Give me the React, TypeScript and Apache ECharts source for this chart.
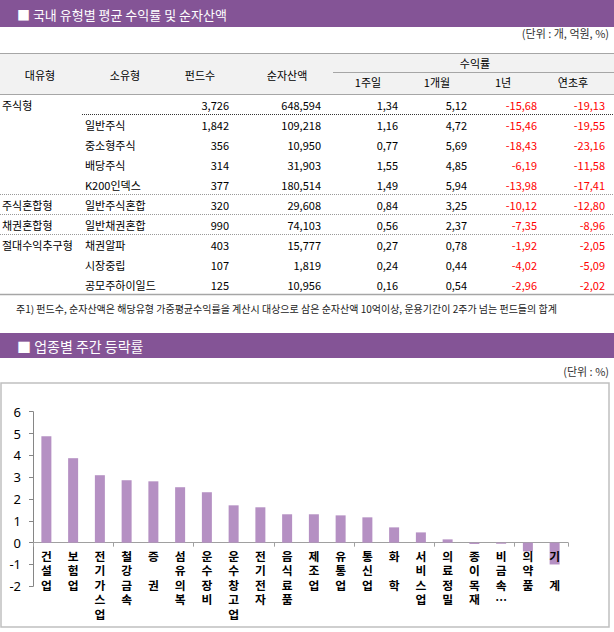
import React, { useEffect, useRef } from "react";
import * as echarts from "echarts";

// ---- Table data ----
const majorTypes = ["주식형", "", "", "", "", "주식혼합형", "채권혼합형", "절대수익추구형", "", ""];
const minorTypes = ["", "일반주식", "중소형주식", "배당주식", "K200인덱스", "일반주식혼합", "일반채권혼합", "채권알파", "시장중립", "공모주하이일드"];
const fundCounts = [3726, 1842, 356, 314, 377, 320, 990, 403, 107, 125];
const netAssets = [648594, 109218, 10950, 31903, 180514, 29608, 74103, 15777, 1819, 10956];
const return1w = [1.34, 1.16, 0.77, 1.55, 1.49, 0.84, 0.56, 0.27, 0.24, 0.16];
const return1m = [5.12, 4.72, 5.69, 4.85, 5.94, 3.25, 2.37, 0.78, 0.44, 0.54];
const return1y = [-15.68, -15.46, -18.43, -6.19, -13.98, -10.12, -7.35, -1.92, -4.02, -2.96];
const returnYtd = [-19.13, -19.55, -23.16, -11.58, -17.41, -12.8, -8.96, -2.05, -5.09, -2.02];

const headerCols = ["대유형", "소유형", "펀드수", "순자산액"];
const returnCols = ["1주일", "1개월", "1년", "연초후"];

// ---- Bar chart data ----
const sectors = ["건설업", "보험업", "전기가스업", "철강금속", "증 권", "섬유의복", "운수장비", "운수창고업", "전기전자", "음식료품", "제조업", "유통업", "통신업", "화 학", "서비스업", "의료정밀", "종이목재", "비금속…", "의약품", "기 계"];
const weeklyChange = [4.88, 3.87, 3.09, 2.86, 2.81, 2.54, 2.31, 1.71, 1.62, 1.3, 1.3, 1.25, 1.16, 0.7, 0.47, 0.15, -0.06, -0.05, -0.4, -1.0];
const yTicks = [-2, -1, 0, 1, 2, 3, 4, 5, 6];

const KR = '"Noto Sans CJK KR", "Noto Sans", sans-serif';
const PURPLE = "#845496";

function txt(x: number, y: number, text: string, opts: any = {}) {
  const align = opts.align || "left";
  return {
    type: "text",
    x,
    y,
    silent: true,
    style: {
      text,
      fill: opts.fill || "#000",
      fontSize: opts.fontSize || 11,
      fontFamily: opts.fontFamily || KR,
      fontWeight: opts.fontWeight || "normal",
      align,
      textAlign: align,
      verticalAlign: "middle",
      textVerticalAlign: "middle",
    },
  };
}

function line(x1: number, y1: number, x2: number, y2: number, stroke: string, dash?: number[], lw = 1) {
  return {
    type: "line",
    silent: true,
    shape: { x1, y1, x2, y2 },
    style: { stroke, lineWidth: lw, lineDash: dash || null },
  };
}

const fmtInt = (v: number) => v.toLocaleString("en-US");
const fmtDec = (v: number) => v.toFixed(2).replace(".", ",");

function buildGraphics() {
  const g: any[] = [];
  // title bar 1
  g.push({ type: "rect", silent: true, shape: { x: 0, y: 0, width: 614, height: 27 }, style: { fill: PURPLE } });
  g.push(txt(17, 14, "■ 국내 유형별 평균 수익률 및 순자산액", { fill: "#fff", fontSize: 13 }));
  g.push(txt(609, 33, "(단위 : 개, 억원, %)", { align: "right", fill: "#333", fontSize: 11 }));

  // header
  g.push({ type: "rect", silent: true, shape: { x: 0, y: 53, width: 614, height: 41 }, style: { fill: "#f2f2f2" } });
  g.push(line(0, 53.5, 614, 53.5, "#a6a6a6"));
  g.push(line(0, 94.5, 614, 94.5, "#a6a6a6"));
  g.push(line(333, 72.5, 614, 72.5, "#a6a6a6"));
  const hx = [40, 125, 200, 287];
  headerCols.forEach((h, i) => g.push(txt(hx[i], 75, h, { align: "center" })));
  g.push(txt(475, 63, "수익률", { align: "center" }));
  const rx = [368, 437, 503, 573];
  returnCols.forEach((h, i) => g.push(txt(rx[i], 82, h, { align: "center" })));

  // rows
  const colRight = [229, 321, 398, 467, 537, 605];
  for (let i = 0; i < majorTypes.length; i++) {
    const y = 105 + i * 20;
    if (majorTypes[i]) g.push(txt(2, y, majorTypes[i]));
    if (minorTypes[i]) g.push(txt(85, y, minorTypes[i]));
    g.push(txt(colRight[0], y, fmtInt(fundCounts[i]), { align: "right" }));
    g.push(txt(colRight[1], y, fmtInt(netAssets[i]), { align: "right" }));
    g.push(txt(colRight[2], y, fmtDec(return1w[i]), { align: "right", fill: return1w[i] < 0 ? "#ff0000" : "#000" }));
    g.push(txt(colRight[3], y, fmtDec(return1m[i]), { align: "right", fill: return1m[i] < 0 ? "#ff0000" : "#000" }));
    g.push(txt(colRight[4], y, fmtDec(return1y[i]), { align: "right", fill: return1y[i] < 0 ? "#ff0000" : "#000" }));
    g.push(txt(colRight[5], y, fmtDec(returnYtd[i]), { align: "right", fill: returnYtd[i] < 0 ? "#ff0000" : "#000" }));
  }
  g.push(line(82, 114.5, 614, 114.5, "#333", [1, 1]));
  g.push(line(0, 194.5, 614, 194.5, "#999", [1, 1]));
  g.push(line(0, 214.5, 614, 214.5, "#999", [1, 1]));
  g.push(line(0, 234.5, 614, 234.5, "#999", [1, 1]));
  g.push(line(0, 294.5, 614, 294.5, "#a6a6a6", undefined, 1.5));

  g.push(
    txt(16, 308, "주1) 펀드수, 순자산액은 해당유형 가중평균수익률을 계산시 대상으로 삼은 순자산액 10억이상, 운용기간이 2주가 넘는 펀드들의 합계", {
      fontSize: 10,
      fill: "#222",
    })
  );

  // title bar 2
  g.push({ type: "rect", silent: true, shape: { x: 0, y: 333, width: 614, height: 25 }, style: { fill: PURPLE } });
  g.push(txt(17, 346, "■ 업종별 주간 등락률", { fill: "#fff", fontSize: 14 }));
  g.push(txt(609, 371, "(단위 : %)", { align: "right", fill: "#333", fontSize: 11 }));

  // chart box
  g.push({
    type: "rect",
    silent: true,
    shape: { x: 1, y: 383, width: 608, height: 244 },
    style: { fill: "none", stroke: "#c0c0c0", lineWidth: 1.5 },
  });
  return g;
}

const GRID_LEFT = 33;
const GRID_RIGHT = 46;
const GRID_TOP = 411.7;
const GRID_BOTTOM_Y = 586.3;
const ZERO_Y = 542.3;

export default function App() {
  const ref = useRef<HTMLDivElement>(null);
  useEffect(() => {
    if (!ref.current) return;
    const chart = echarts.init(ref.current, undefined, { renderer: "svg" });
    chart.setOption({
      animation: false,
      backgroundColor: "#fff",
      graphic: { elements: buildGraphics() },
      grid: [
        {
          left: GRID_LEFT,
          right: GRID_RIGHT,
          top: GRID_TOP,
          bottom: 632 - GRID_BOTTOM_Y,
          containLabel: false,
          outerBoundsMode: "none",
        },
        {
          left: GRID_LEFT,
          right: GRID_RIGHT,
          top: GRID_TOP,
          bottom: 632 - ZERO_Y,
          containLabel: false,
          outerBoundsMode: "none",
        },
      ],
      xAxis: [
        {
          type: "category",
          gridIndex: 0,
          data: sectors,
          boundaryGap: true,
          axisLine: { onZero: true, lineStyle: { color: "#a0a0a0", width: 1 } },
          axisTick: { show: true, length: 4, lineStyle: { color: "#a0a0a0" } },
          axisLabel: { show: false },
          splitLine: { show: false },
        },
        {
          type: "category",
          gridIndex: 1,
          data: sectors,
          boundaryGap: true,
          z: 10,
          axisLine: { show: false },
          axisTick: { show: false },
          axisLabel: {
            interval: 0,
            margin: 6,
            color: "#000",
            fontSize: 11.8,
            fontWeight: "bold",
            fontFamily: KR,
            lineHeight: 14.4,
            verticalAlign: "top",
            formatter: (v: string) => v.split("").join("\n"),
          },
          splitLine: { show: false },
        },
      ],
      yAxis: [
        {
          type: "value",
          gridIndex: 0,
          min: yTicks[0],
          max: yTicks[yTicks.length - 1],
          interval: 1,
          axisLine: { show: true, lineStyle: { color: "#868686" } },
          axisTick: { show: true, length: 4, lineStyle: { color: "#868686" } },
          axisLabel: { color: "#000", fontSize: 13, fontFamily: '"Noto Sans", sans-serif', margin: 12 },
          splitLine: { show: false },
        },
        {
          type: "value",
          gridIndex: 1,
          min: 0,
          max: 1,
          show: false,
        },
      ],
      series: [
        {
          type: "bar",
          xAxisIndex: 0,
          yAxisIndex: 0,
          data: weeklyChange,
          barWidth: 10,
          z: 2,
          itemStyle: { color: "#b590c3" },
        },
      ],
    });
    return () => chart.dispose();
  }, []);
  return <div ref={ref} style={{ position: "absolute", left: 0, top: 0, width: 614, height: 632 }} />;
}
